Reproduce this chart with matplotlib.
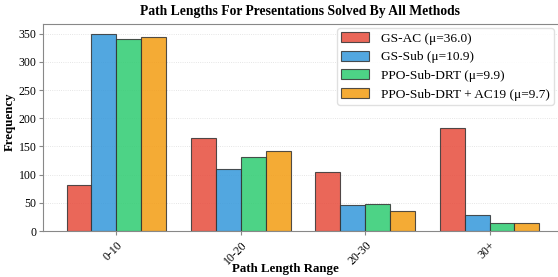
import numpy as np
import matplotlib.pyplot as plt

# Dados
categorias = ['0-10', '10-20', '20-30', '30+']
gs_ac = [81, 165, 105, 182]
gs_sub = [349, 110, 46, 29]
ppo_drt = [340, 131, 48, 14]
ppo_drt_ac19 = [344, 142, 36, 14]

rotulos = ['GS-AC (\u03bc=36.0)', 'GS-Sub (\u03bc=10.9)',
           'PPO-Sub-DRT (\u03bc=9.9)', 'PPO-Sub-DRT + AC19 (\u03bc=9.7)']
cores = ['#e74c3c', '#3498db', '#2ecc71', '#f39c12']

plt.rcParams['font.family'] = ['Liberation Serif', 'DejaVu Serif']

fig = plt.figure(figsize=(5.58, 2.77), dpi=100)
ax = fig.add_axes([0.077, 0.166, 0.923, 0.746])

x = np.arange(len(categorias))
w = 0.2
series = [gs_ac, gs_sub, ppo_drt, ppo_drt_ac19]
for i, (s, lab, c) in enumerate(zip(series, rotulos, cores)):
    ax.bar(x + (i - 1.5) * w, s, w, label=lab, color=c, alpha=0.85,
           edgecolor='#333333', linewidth=0.8)

ax.set_xlim(-0.59, 3.55)
ax.set_ylim(0, 366.5)
ax.set_yticks(np.arange(0, 351, 50))
ax.set_xticks(x)
ax.set_xticklabels(categorias, rotation=45, ha='right', fontsize=8.5,
                   rotation_mode='anchor')
ax.tick_params(axis='y', labelsize=8.5, length=3, color='#888888', pad=1.5)
ax.tick_params(axis='x', length=3, color='#888888', pad=3)

ax.yaxis.grid(True, linestyle=':', color='#dddddd', linewidth=0.6)
ax.set_axisbelow(True)
for sp in ['left', 'bottom', 'top']:
    ax.spines[sp].set_color('#888888')
ax.spines['right'].set_visible(False)

ax.set_xlabel('Path Length Range', fontsize=9.3, fontweight='bold')
ax.xaxis.set_label_coords(0.47, -0.155)
ax.set_ylabel('Frequency', fontsize=9.3, fontweight='bold')
ax.yaxis.set_label_coords(-0.052, 0.53)
ax.set_title('Path Lengths For Presentations Solved By All Methods',
             fontsize=9.8, fontweight='bold', pad=7)

ax.legend(loc='upper right', fontsize=9.6, frameon=True, framealpha=0.9,
          edgecolor='#dddddd', fancybox=True, borderpad=0.3, labelspacing=0.45,
          handlelength=2.1, handleheight=0.75, handletextpad=0.9,
          borderaxespad=0.3, bbox_to_anchor=(1.0, 1.0))

fig.savefig('out.png', dpi=100)
